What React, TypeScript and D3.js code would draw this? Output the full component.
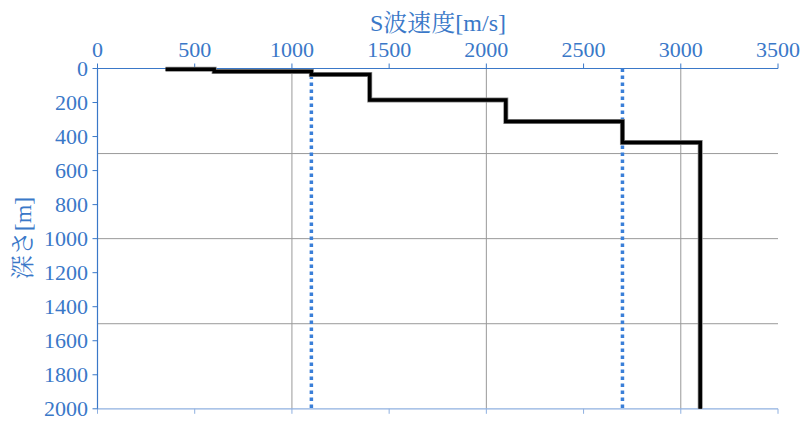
import React from "react";
import * as d3 from "d3";

const velocities = [350, 600, 1100, 1400, 2100, 2700, 3100];
const boundaries = [4, 18, 35, 185, 312, 435];
const maxDepth = 2000;
const refVelocities = [1100, 2700];
const xTicks = [0, 500, 1000, 1500, 2000, 2500, 3000, 3500];
const yTicks = [0, 200, 400, 600, 800, 1000, 1200, 1400, 1600, 1800, 2000];
const xGrid = [1000, 2000, 3000];
const yGrid = [500, 1000, 1500];

const W = 810, H = 426;
const left = 97.5, right = 778, top = 68.5, bottom = 408.8;
const blue = "#3a78c8";

export default function App() {
  const x = d3.scaleLinear().domain([0, 3500]).range([left, right]);
  const y = d3.scaleLinear().domain([0, 2000]).range([top, bottom]);

  const pts: [number, number][] = [];
  velocities.forEach((v, i) => {
    const d0 = boundaries[i - 1] ?? boundaries[0];
    const d1 = i < boundaries.length ? boundaries[i] : maxDepth;
    if (i === 0) pts.push([v, d1]);
    else {
      pts.push([v, d0]);
      pts.push([v, d1]);
    }
  });
  const line = d3.line<[number, number]>().x((p) => x(p[0])).y((p) => y(p[1]));
  const path = line(pts) || "";

  const font = "Times New Roman, Liberation Serif, DejaVu Serif, serif";
  const cjk = "Times New Roman, Liberation Serif, Noto Serif CJK JP, Noto Sans CJK JP, serif";

  return (
    <svg width={W} height={H} style={{ position: "absolute", left: 0, top: 0, background: "#fff" }}>
      {xGrid.map((v) => (
        <line key={"xg" + v} x1={x(v)} x2={x(v)} y1={top} y2={bottom} stroke="#999" strokeWidth={1} />
      ))}
      {yGrid.map((v) => (
        <line key={"yg" + v} x1={left} x2={right} y1={y(v)} y2={y(v)} stroke="#999" strokeWidth={1} />
      ))}
      <line x1={left} x2={right} y1={bottom} y2={bottom} stroke="#8fb0e0" strokeWidth={1.2} />
      {xTicks.map((v) => (
        <line key={"bt" + v} x1={x(v)} x2={x(v)} y1={bottom} y2={bottom + 5} stroke="#8fb0e0" strokeWidth={1} />
      ))}
      <line x1={left} x2={right} y1={top} y2={top} stroke={blue} strokeWidth={1.2} />
      {xTicks.map((v) => (
        <g key={"xt" + v}>
          <line x1={x(v)} x2={x(v)} y1={top - 5} y2={top} stroke={blue} strokeWidth={1} />
          <text x={x(v)} y={57} textAnchor="middle" style={{ fontFamily: font, fontSize: 22 }} fill={blue}>
            {v}
          </text>
        </g>
      ))}
      <line x1={left} x2={left} y1={top} y2={bottom} stroke={blue} strokeWidth={1.2} />
      {yTicks.map((v) => (
        <g key={"yt" + v}>
          <line x1={left - 5} x2={left} y1={y(v)} y2={y(v)} stroke={blue} strokeWidth={1} />
          <text x={88} y={y(v) + 7.5} textAnchor="end" style={{ fontFamily: font, fontSize: 22 }} fill={blue}>
            {v}
          </text>
        </g>
      ))}
      {refVelocities.map((v) => (
        <line key={"rv" + v} x1={x(v)} x2={x(v)} y1={top} y2={bottom} stroke="#3a7fd8" strokeWidth={3.5} strokeDasharray="3.5 3.5" />
      ))}
      <path d={path} fill="none" stroke="#888" strokeWidth={5} strokeLinejoin="miter" />
      <path d={path} fill="none" stroke="#000" strokeWidth={3.5} strokeLinejoin="miter" />
      <text x={438} y={31} textAnchor="middle" style={{ fontFamily: cjk, fontSize: 24 }} fill={blue}>
        S波速度[m/s]
      </text>
      <text
        transform={`translate(31, 238) rotate(-90)`}
        textAnchor="middle"
        style={{ fontFamily: cjk, fontSize: 24 }}
        fill={blue}
      >
        深さ[m]
      </text>
    </svg>
  );
}
